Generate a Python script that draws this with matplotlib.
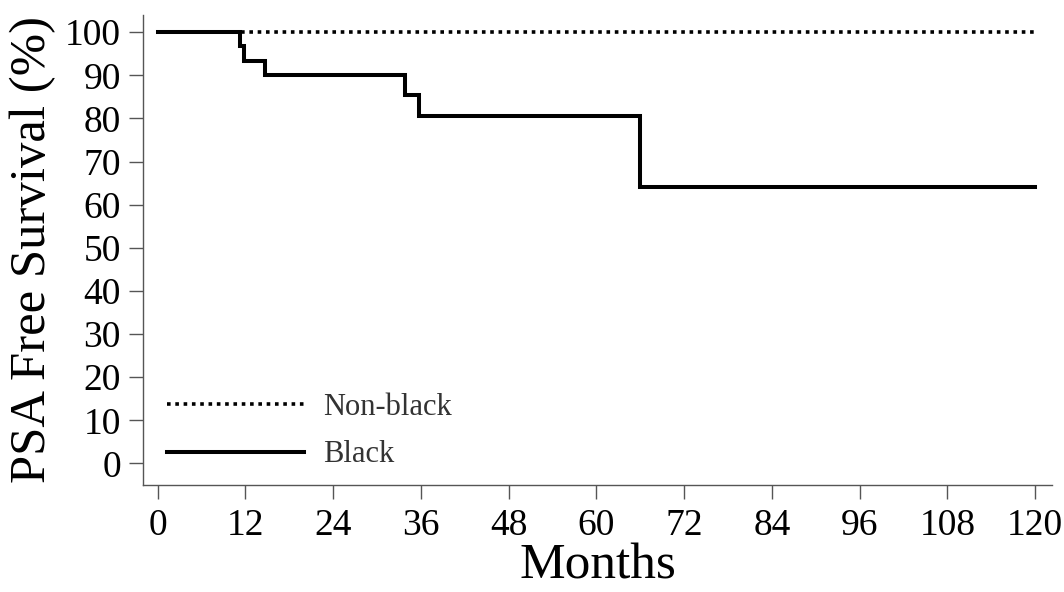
import matplotlib
matplotlib.use("Agg")
import matplotlib.pyplot as plt

# Data
months_black = [0, 11.3, 11.8, 14.7, 33.8, 35.7, 66.0, 120]
surv_black = [100, 96.7, 93.3, 90.0, 85.5, 80.5, 64.2, 64.2]
months_nonblack = [0, 120]
surv_nonblack = [100, 100]
xticks = [0, 12, 24, 36, 48, 60, 72, 84, 96, 108, 120]
yticks = [0, 10, 20, 30, 40, 50, 60, 70, 80, 90, 100]

plt.rcParams['font.family'] = ['Liberation Serif', 'DejaVu Serif']

fig = plt.figure(figsize=(10.64, 5.92), dpi=100)
ax = fig.add_axes([143/1064, 107/592, (1052-143)/1064, (485-15)/592])

ax.step(months_nonblack, surv_nonblack, where='post', color='black', lw=2.6,
        linestyle=(0, (1, 1.3)), label='Non-black')
ax.step(months_black, surv_black, where='post', color='black', lw=2.9,
        solid_joinstyle='miter', label='Black')

ax.set_xlim(-2.0, 122.3)
ax.set_ylim(-5, 104)
ax.set_xticks(xticks)
ax.set_yticks(yticks)
ax.tick_params(axis='both', direction='out', length=10, width=1, color='#555555',
               labelsize=27)
ax.tick_params(axis='x', pad=7)
ax.tick_params(axis='y', pad=6)
for s in ['top', 'right']:
    ax.spines[s].set_visible(False)
for s in ['left', 'bottom']:
    ax.spines[s].set_color('#555555')
    ax.spines[s].set_linewidth(1)

ax.set_xlabel('Months', fontsize=37, labelpad=0)
ax.set_ylabel('PSA Free Survival (%)', fontsize=36.5, labelpad=6)

leg = ax.legend(loc='lower left', bbox_to_anchor=(-0.004, -0.025), frameon=False,
                fontsize=22, handlelength=4.5, handletextpad=0.6, labelspacing=0.6)
for t in leg.get_texts():
    t.set_color('#333333')

fig.savefig('out.png', dpi=100)
